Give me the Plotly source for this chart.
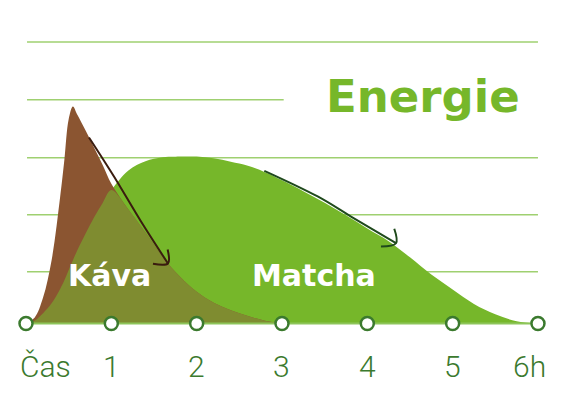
import numpy as np
import plotly.graph_objects as go

# time grid (hours) shared by both curves
hours = [0, 0.1, 0.2, 0.3, 0.4, 0.45, 0.5, 0.55, 0.6, 0.7, 0.8, 0.9, 1.0,
         1.2, 1.4, 1.6, 1.8, 2.0, 2.2, 2.4, 2.6, 2.8, 3.0, 3.25, 3.5, 3.75,
         4.0, 4.25, 4.5, 4.75, 5.0, 5.25, 5.5, 5.75, 6.0]

# energy levels
kava = [0, 0.1, 0.45, 1.1, 2.2, 2.85, 3.55, 3.77, 3.63, 3.35, 3.05, 2.75,
        2.43, 1.98, 1.58, 1.16, 0.82, 0.55, 0.36, 0.23, 0.13, 0.05, 0.01,
        0, 0, 0, 0, 0, 0, 0, 0, 0, 0, 0, 0]
matcha = [0, 0.05, 0.18, 0.35, 0.6, 0.75, 0.93, 1.1, 1.27, 1.57, 1.85,
          2.1, 2.32, 2.66, 2.82, 2.89, 2.9, 2.9, 2.87, 2.81, 2.74, 2.63,
          2.49, 2.3, 2.1, 1.88, 1.65, 1.43, 1.15, 0.85, 0.59, 0.34, 0.16,
          0.04, 0]

# horizontal guide lines: level and where they end
grid_levels = [0.9, 1.89, 2.88, 3.89, 4.89]
grid_ends = [6.0, 6.0, 6.0, 3.02, 6.0]

tick_hours = [0, 1, 2, 3, 4, 5, 6]
tick_labels = ["Čas", "1", "2", "3", "4", "5", "6h"]

# decline arrows (path + head)
kava_arrow_x = [0.738, 1.031, 1.348, 1.664]
kava_arrow_y = [3.232, 2.554, 1.772, 1.043]
kava_head_x = [1.488, 1.664, 1.66]
kava_head_y = [1.037, 1.043, 1.286]
matcha_arrow_x = [2.793, 3.418, 3.809, 4.336]
matcha_arrow_y = [2.653, 2.207, 1.859, 1.395]
matcha_head_x = [4.16, 4.336, 4.316]
matcha_head_y = [1.338, 1.395, 1.646]

BROWN = "#8b5531"
GREEN = "#76b72a"
OLIVE = "#7f8c30"
GRID = "#9fd070"
DARK = "#3b7a2e"

fig = go.Figure()

# guide lines
for lvl, end in zip(grid_levels, grid_ends):
    fig.add_trace(go.Scatter(x=[0.012, end], y=[lvl, lvl], mode="lines",
                             line=dict(color=GRID, width=1.5),
                             hoverinfo="skip", showlegend=False))

# matcha area
fig.add_trace(go.Scatter(x=hours, y=matcha, mode="lines", fill="tozeroy",
                         fillcolor=GREEN, line=dict(width=0, shape="spline"),
                         showlegend=False))
# coffee area
fig.add_trace(go.Scatter(x=hours, y=kava, mode="lines", fill="tozeroy",
                         fillcolor=BROWN, line=dict(width=0, shape="spline"),
                         showlegend=False))
# overlap of the two
overlap = np.minimum(kava, matcha)
fig.add_trace(go.Scatter(x=hours, y=overlap, mode="lines", fill="tozeroy",
                         fillcolor=OLIVE, line=dict(width=0, shape="spline"),
                         showlegend=False))

# arrows
for ax, ay, color in [(kava_arrow_x, kava_arrow_y, "#3a1c0f"),
                      (kava_head_x, kava_head_y, "#3a1c0f"),
                      (matcha_arrow_x, matcha_arrow_y, "#1f4a1c"),
                      (matcha_head_x, matcha_head_y, "#1f4a1c")]:
    fig.add_trace(go.Scatter(x=ax, y=ay, mode="lines",
                             line=dict(color=color, width=2, shape="spline"),
                             hoverinfo="skip", showlegend=False))

# baseline + hour markers
fig.add_trace(go.Scatter(x=[0, 6], y=[0, 0], mode="lines",
                         line=dict(color="#8dc55a", width=2),
                         showlegend=False))
fig.add_trace(go.Scatter(x=tick_hours, y=[0] * len(tick_hours),
                         mode="markers",
                         marker=dict(symbol="circle", size=13, color="white",
                                     line=dict(color=DARK, width=2.5)),
                         showlegend=False))

# hour labels
shifts = [19, 0, 0, 0, 0, 0, -8]
for h, lab, sh in zip(tick_hours, tick_labels, shifts):
    fig.add_annotation(x=h, y=-0.74, text=lab, showarrow=False, xshift=sh,
                       font=dict(family="Roboto", size=30, color=DARK,
                                 weight=300))

fig.add_annotation(x=4.652, y=3.95, text="<b>Energie</b>", showarrow=False,
                   font=dict(family="DejaVu Sans", size=45, color=GREEN))
fig.add_annotation(x=0.973, y=0.83, text="<b>Káva</b>", showarrow=False,
                   font=dict(family="DejaVu Sans", size=30, color="white"))
fig.add_annotation(x=3.375, y=0.83, text="<b>Matcha</b>", showarrow=False,
                   font=dict(family="DejaVu Sans", size=30, color="white"))

# page body adds a small offset, ranges are shifted to compensate
fig.update_layout(
    width=567, height=408,
    margin=dict(l=0, r=0, t=0, b=0),
    paper_bgcolor="white", plot_bgcolor="white",
    xaxis=dict(range=[-0.211, 6.434], visible=False, fixedrange=True),
    yaxis=dict(range=[-1.607, 5.482], visible=False, fixedrange=True),
)

fig.write_html("out.html")
